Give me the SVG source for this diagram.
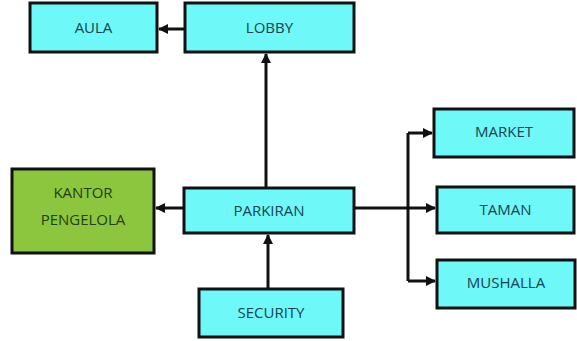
<svg xmlns="http://www.w3.org/2000/svg" width="577" height="341" viewBox="0 0 577 341">
<style>
.n rect{fill:#6ff8f8;stroke:#111;stroke-width:3}
.g rect{fill:#8cc63e;stroke:#111;stroke-width:3}
text{font-family:"Open Sans","Liberation Sans",sans-serif;font-size:15px;fill:#17434f;text-anchor:middle;dominant-baseline:central}
.g text{fill:#233d0e}
.c path{fill:none;stroke:#111;stroke-width:3}
</style>
<defs>
<marker id="a" viewBox="0 0 10 10" refX="9" refY="5" markerWidth="3.4" markerHeight="3.4" orient="auto" markerUnits="strokeWidth">
<path d="M0,0 L10,5 L0,10 z" fill="#111"/>
</marker>
</defs>
<g class="c">
<path d="M185,29 H159" marker-end="url(#a)"/>
<path d="M266,188 V54" marker-end="url(#a)"/>
<path d="M184,208 H156" marker-end="url(#a)"/>
<path d="M268,289 V235" marker-end="url(#a)"/>
<path d="M354,208 H408"/>
<path d="M408,133 V281"/>
<path d="M408,133 H432" marker-end="url(#a)"/>
<path d="M408,208 H435" marker-end="url(#a)"/>
<path d="M408,281 H435" marker-end="url(#a)"/>
</g>
<g id="aula" class="n"><rect x="30" y="3" width="127" height="49"/><text x="93.5" y="27">AULA</text></g>
<g id="lobby" class="n"><rect x="185" y="3" width="169" height="49"/><text x="269.5" y="27">LOBBY</text></g>
<g id="kantor" class="g"><rect x="12" y="169" width="142" height="84"/><text x="83" y="192">KANTOR</text><text x="83" y="219">PENGELOLA</text></g>
<g id="parkiran" class="n"><rect x="184" y="188" width="170" height="45"/><text x="269" y="210">PARKIRAN</text></g>
<g id="security" class="n"><rect x="199" y="289" width="144" height="48"/><text x="271" y="312">SECURITY</text></g>
<g id="market" class="n"><rect x="434" y="109" width="140" height="48"/><text x="504" y="131">MARKET</text></g>
<g id="taman" class="n"><rect x="437" y="187" width="137" height="46"/><text x="505.5" y="209">TAMAN</text></g>
<g id="mushalla" class="n"><rect x="437" y="260" width="138" height="48"/><text x="506" y="282">MUSHALLA</text></g>
</svg>
